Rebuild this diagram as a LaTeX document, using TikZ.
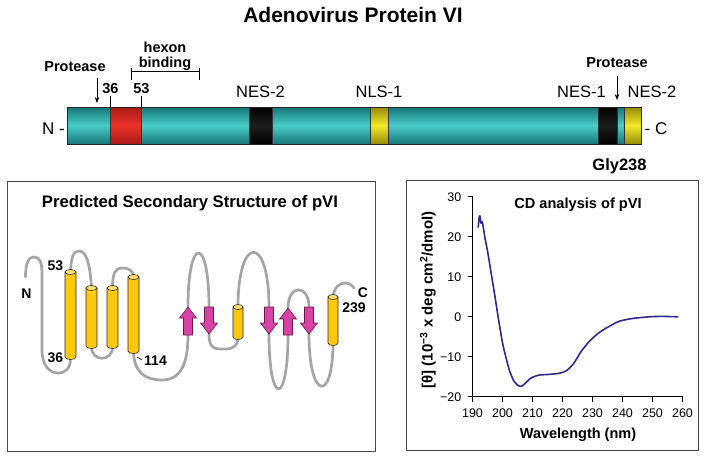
\documentclass[tikz,border=0pt]{standalone}
\usepackage{fontspec}
\setmainfont{Liberation Sans}
\usetikzlibrary{arrows.meta}
\newcommand\setfs[1]{\fontsize{#1}{#1}\selectfont}
\definecolor{tealmid}{RGB}{72,204,200}
\definecolor{tealedge}{RGB}{22,118,120}
\definecolor{redmid}{RGB}{236,48,40}
\definecolor{rededge}{RGB}{170,26,22}
\definecolor{yelmid}{RGB}{242,232,40}
\definecolor{yeledge}{RGB}{150,140,10}
\definecolor{blkmid}{RGB}{30,30,30}
\definecolor{loopgray}{RGB}{165,165,165}
\definecolor{cylfill}{RGB}{255,200,12}
\definecolor{cyltopfill}{RGB}{255,222,110}
\definecolor{strandfill}{RGB}{214,66,166}
\definecolor{stranddraw}{RGB}{110,25,80}
\definecolor{cdblue}{RGB}{48,40,140}
\definecolor{boxgray}{RGB}{70,70,70}
\newcommand\mycyl[4]{% x, ytop, ybot, radius
  \filldraw[cylbody] (#1-#4,#2) -- (#1-#4,#3) .. controls (#1-#4,#3+3.3) and (#1+#4,#3+3.3) .. (#1+#4,#3) -- (#1+#4,#2) -- cycle;
  \filldraw[cyltop] (#1,#2) ellipse[x radius=#4,y radius=2.5];}
\newcommand\upstrand[3]{% cx, ytop, ybot
  \filldraw[strand] (#1-4.5,#3) -- (#1-4.5,#2+11) -- (#1-8.5,#2+11) -- (#1,#2) -- (#1+8.5,#2+11) -- (#1+4.5,#2+11) -- (#1+4.5,#3) -- cycle;}
\newcommand\downstrand[3]{% cx, ytop, ybot
  \filldraw[strand] (#1-4.5,#2) -- (#1-4.5,#3-11) -- (#1-8.5,#3-11) -- (#1,#3) -- (#1+8.5,#3-11) -- (#1+4.5,#3-11) -- (#1+4.5,#2) -- cycle;}
\begin{document}
\begin{tikzpicture}[x=1pt,y=-1pt,
  txt/.style={inner sep=0pt, anchor=base},
  bartxt/.style={txt, font=\setfs{16.5}},
  boldlbl/.style={txt, font=\bfseries\setfs{14.5}},
  pnl/.style={txt, font=\bfseries\setfs{14}},
  tealseg/.style={top color=tealedge, bottom color=tealedge, middle color=tealmid},
  redseg/.style={top color=rededge, bottom color=rededge, middle color=redmid},
  yelseg/.style={top color=yeledge, bottom color=yeledge, middle color=yelmid},
  blkseg/.style={top color=black, bottom color=black, middle color=blkmid},
  sep/.style={line width=0.6pt, draw=black!80},
  barline/.style={line width=0.9pt, draw=black!85},
  pointer/.style={line width=0.8pt, -{Stealth[length=6pt,width=4.5pt]}},
  box/.style={line width=1pt, draw=boxgray},
  looppath/.style={line width=2.7pt, draw=loopgray, line cap=round},
  cylbody/.style={fill=cylfill, draw=black!85, line width=0.6pt},
  cyltop/.style={fill=cyltopfill, draw=black!85, line width=0.6pt},
  strand/.style={fill=strandfill, draw=stranddraw, line width=0.6pt, line join=miter},
  axisline/.style={line width=0.7pt, draw=black},
  ticklbl/.style={inner sep=0pt, font=\setfs{12.5}},
  cdline/.style={line width=1.6pt, draw=cdblue, line join=round}]
\useasboundingbox (0,0) rectangle (704,458);
\fill[white] (0,0) rectangle (704,458);

% ---------- title ----------
\node[txt, font=\bfseries\setfs{21}] (title) at (353,22) {Adenovirus Protein VI};

% ---------- linear map ----------
\shade[tealseg] (67,107) rectangle (110.5,144);
\shade[redseg]  (110.5,107) rectangle (141.5,144);
\shade[tealseg] (141.5,107) rectangle (249,144);
\shade[blkseg]  (249,107) rectangle (272,144);
\shade[tealseg] (272,107) rectangle (370,144);
\shade[yelseg]  (370,107) rectangle (388,144);
\shade[tealseg] (388,107) rectangle (598,144);
\shade[blkseg]  (598,107) rectangle (617,144);
\shade[tealseg] (617,107) rectangle (624,144);
\shade[yelseg]  (624,107) rectangle (641.5,144);
\foreach \xx in {110.5,141.5,249,272,370,388,598,617,624}
  \draw[sep] (\xx,107) -- (\xx,144);
\draw[barline] (67,107) rectangle (641.5,144);

\node[bartxt, font=\setfs{17}] (nterm) at (53.5,134) {N -};
\node[bartxt, font=\setfs{17}] (cterm) at (656,134) {- C};

\node[boldlbl] (protL) at (75,71) {Protease};
\coordinate (pL1) at (97,78);
\coordinate (pL2) at (97,103);
\draw[pointer] (pL1) -- (pL2);

\node[boldlbl] (n36) at (110.5,93) {36};
\node[boldlbl] (n53) at (141.5,93) {53};
\coordinate (t36a) at (110.5,96);
\coordinate (t36b) at (110.5,107);
\coordinate (t53a) at (141.5,96);
\coordinate (t53b) at (141.5,107);
\draw[line width=0.7pt] (t36a) -- (t36b);
\draw[line width=0.7pt] (t53a) -- (t53b);

\node[boldlbl] (hexon) at (165,52) {hexon};
\node[boldlbl] (binding) at (165,67) {binding};
\coordinate (hb1) at (131,71);
\coordinate (hb2) at (199,71);
\draw[line width=0.8pt] (hb1) -- (hb2) (131,68) -- (131,80) (199,68) -- (199,80);

\node[bartxt] (nes2a) at (260.5,97) {NES-2};
\node[bartxt] (nls1) at (379,97) {NLS-1};
\node[bartxt] (nes1) at (581.5,97) {NES-1};
\node[bartxt] (nes2b) at (652,97) {NES-2};

\node[boldlbl] (protR) at (617,67) {Protease};
\coordinate (pR1) at (617,76);
\coordinate (pR2) at (617,100);
\draw[pointer] (pR1) -- (pR2);

\node[txt, font=\bfseries\setfs{16.5}] (gly) at (619.5,170) {Gly238};

% ---------- panels ----------
\draw[box] (7,181) rectangle (375,451);
\draw[box] (406,180) rectangle (698,450);

% ---------- secondary structure ----------
\node[txt, font=\bfseries\setfs{16.7}] (ptitle) at (190,207) {Predicted Secondary Structure of pVI};

\draw[looppath]
 (25.5,277) .. controls (25.5,262) and (29,257) .. (34,257) .. controls (40,257) and (42,262) .. (42,275) -- (42,350)
   .. controls (42,366) and (50,373) .. (58,373) .. controls (66,373) and (70.5,368) .. (70.5,358)
 (70.5,272) .. controls (71,256) and (74,251) .. (79,251) .. controls (86,251) and (90,262) .. (91.5,288)
 (91.5,347) .. controls (91.5,362) and (112.5,362) .. (112.5,347)
 (112.5,288) .. controls (112.5,272) and (116,268) .. (122,268) .. controls (128,268) and (133.5,270) .. (133.5,277)
 (133.5,352) .. controls (134,372) and (145,380) .. (162,380) .. controls (180,380) and (188,365) .. (188,335)
 (188,307) .. controls (188,235) and (209,235) .. (209,307)
 (209,334) .. controls (209,350) and (216,349) .. (225,349) .. controls (234,349) and (238,345) .. (238,338)
 (238,307) .. controls (238,234) and (269,234) .. (269,307)
 (269,334) .. controls (269,407) and (288,407) .. (288,335)
 (288,308) .. controls (288,284) and (309,284) .. (309,307)
 (309,334) .. controls (309,401) and (333,403) .. (333,343)
 (333,297) .. controls (334,287) and (340,283) .. (345,283) .. controls (349,283) and (352,285) .. (354,288);

\mycyl{70.5}{272}{357}{5.5}
\mycyl{91.5}{288}{346}{5.5}
\mycyl{112.5}{288}{346}{5.5}
\mycyl{133.5}{277}{351}{5.5}
\mycyl{238}{307}{337}{5}
\mycyl{333}{297}{343}{5}
\upstrand{188}{307}{335}
\downstrand{209}{307}{334}
\downstrand{269}{307}{334}
\upstrand{288}{308}{335}
\downstrand{309}{307}{334}

\node[pnl] (lN) at (26.5,298) {N};
\node[pnl] (l53) at (55.5,270) {53};
\node[pnl] (l36) at (55.5,362) {36};
\node[pnl] (l114) at (155.5,365) {114};
\coordinate (d1) at (137,357);
\coordinate (d2) at (142,360);
\draw[line width=0.6pt] (d1) -- (d2);
\node[pnl] (lC) at (363,297) {C};
\node[pnl] (l239) at (354,312) {239};

% ---------- CD plot ----------
\node[txt, font=\bfseries\setfs{14.6}] (cdtitle) at (578,208) {CD analysis of pVI};
\node[txt, font=\bfseries\setfs{14.5}] (xlabel) at (578,438) {Wavelength (nm)};
\node[inner sep=0pt, rotate=90, font=\bfseries\setfs{15}] (ylabel) at (428,300)
  {[θ] (10\textsuperscript{−3} x deg cm\textsuperscript{2}/dmol)};

\begin{scope}[shift={(472.5pt,-316.8pt)}, x=3pt, y=4pt]
  \draw[axisline] (0,30) -- (0,-20) -- (70,-20);
  \foreach \vv in {-20,-10,0,10,20,30}
    \draw[axisline] (0,\vv) -- ++(-4.5pt,0);
  \foreach \xx in {0,10,...,70}
    \draw[axisline] (\xx,-20) -- ++(0,-5pt);
  \node[ticklbl, anchor=east] (y30) at ([xshift=-11pt]0,30) {30};
  \node[ticklbl, anchor=east] (y20) at ([xshift=-11pt]0,20) {20};
  \node[ticklbl, anchor=east] (y10) at ([xshift=-11pt]0,10) {10};
  \node[ticklbl, anchor=east] (y0) at ([xshift=-11pt]0,0) {0};
  \node[ticklbl, anchor=east] (ym10) at ([xshift=-11pt]0,-10) {−10};
  \node[ticklbl, anchor=east] (ym20) at ([xshift=-11pt]0,-20) {−20};
  \foreach \xx/\lab in {0/190,10/200,20/210,30/220,40/230,50/240,60/250,70/260}
    \node[ticklbl, anchor=base] (x\lab) at ([yshift=-20.2pt]\xx,-20) {\lab};
  \draw[cdline]
    plot[smooth, tension=0.5] coordinates {
    (1.9,22.3) (2.2,24.8) (2.5,25.2) (2.8,23.4) (3.3,23.6) (4.2,19.5) (5.0,16.5)
    (6.2,11) (7.4,5.5) (8.6,-0.3) (10.0,-6.5) (11.1,-10) (12.4,-13.6) (14.0,-16.3)
    (15.8,-17.4) (17.2,-16.9) (19.3,-15.4) (22.0,-14.6) (25.5,-14.4) (29.0,-14.1)
    (31.2,-13.5) (33.5,-11.9) (36.2,-8.7) (39.0,-6.1) (42.3,-3.9) (45.8,-2.3)
    (49.0,-1.1) (53.5,-0.4) (59.0,0) (63.0,0.1) (68.6,0)};
\end{scope}
\end{tikzpicture}
\end{document}
